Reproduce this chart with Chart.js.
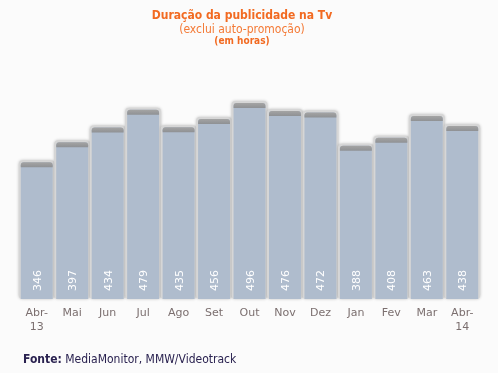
<!DOCTYPE html>
<html>
<head>
<meta charset="utf-8">
<script src="https://cdn.jsdelivr.net/npm/chart.js@4/dist/chart.umd.min.js"></script>
<style>
  html, body { margin: 0; padding: 0; background: #fbfbfb; }
  #wrap { position: relative; width: 498px; height: 373px; overflow: hidden; }
  canvas { position: absolute; left: 0; top: 0; }
  .t { position: absolute; left: 0; width: 484px; text-align: center; color: #f26a21; font-family: "DejaVu Sans Condensed", "DejaVu Sans", sans-serif; white-space: nowrap; }
  #t1 { top: 8px; font-size: 12px; font-weight: bold; }
  #t2 { top: 22px; font-size: 12px; color: #f47a36; }
  #t3 { top: 35px; font-size: 10px; font-weight: bold; }
  #src { position: absolute; left: 23px; top: 352px; font-family: "DejaVu Sans Condensed", "DejaVu Sans", sans-serif; font-size: 12px; color: #2a2250; white-space: nowrap; }
</style>
</head>
<body>
<div id="wrap">
  <canvas id="chart" width="498" height="373"></canvas>
  <div class="t" id="t1">Duração da publicidade na Tv</div>
  <div class="t" id="t2">(exclui auto-promoção)</div>
  <div class="t" id="t3">(em horas)</div>
  <div id="src"><b>Fonte:</b> MediaMonitor, MMW/Videotrack</div>
</div>
<script>
//---data---
var months = [['Abr-', '13'], 'Mai', 'Jun', 'Jul', 'Ago', 'Set', 'Out', 'Nov', 'Dez', 'Jan', 'Fev', 'Mar', ['Abr-', '14']];
var hours = [346, 397, 434, 479, 435, 456, 496, 476, 472, 388, 408, 463, 438];

//-------------------Plugins-------------------
// soft grey glow behind every bar
var barGlow = {
  id: 'barGlow',
  beforeDatasetsDraw: function(chart){
    const ctx = chart.ctx;
    ctx.save();
    chart.getDatasetMeta(0).data.forEach(function(bar){
      const w = bar.width;
      ctx.fillStyle = '#d6d6d6';
      ctx.shadowColor = 'rgba(0,0,0,0.25)';
      ctx.shadowBlur = 3;
      ctx.beginPath();
      ctx.roundRect(bar.x - w / 2 - 2, bar.y - 2, w + 4, bar.base - bar.y + 2, 4);
      ctx.fill();
    });
    ctx.restore();
  }
};

// dark cap on top of every bar + rotated value label
var barCaps = {
  id: 'barCaps',
  afterDatasetsDraw: function(chart){
    const ctx = chart.ctx;
    ctx.save();
    chart.getDatasetMeta(0).data.forEach(function(bar, i){
      const w = bar.width;
      const g = ctx.createLinearGradient(0, bar.y, 0, bar.y + 5);
      g.addColorStop(0, '#a4a4a4');
      g.addColorStop(1, '#8f9194');
      ctx.fillStyle = g;
      ctx.beginPath();
      ctx.roundRect(bar.x - w / 2, bar.y, w, 5, [3, 3, 0, 0]);
      ctx.fill();

      ctx.save();
      ctx.translate(bar.x + 4, bar.base - 8);
      ctx.rotate(-Math.PI / 2);
      ctx.fillStyle = '#ffffff';
      ctx.font = '11px "DejaVu Sans"';
      ctx.textAlign = 'left';
      ctx.textBaseline = 'alphabetic';
      ctx.fillText(String(hours[i]), 0, 0);
      ctx.restore();
    });
    ctx.restore();
  }
};

new Chart(document.getElementById('chart'), {
  type: 'bar',
  data: {
    labels: months,
    datasets: [{
      data: hours,
      backgroundColor: '#afbccd',
      borderRadius: { topLeft: 3, topRight: 3 },
      borderSkipped: 'start',
      barPercentage: 1,
      categoryPercentage: 0.9
    }]
  },
  options: {
    responsive: false,
    animation: false,
    layout: { padding: { left: 19, right: 18, top: 62, bottom: 0 } },
    plugins: { legend: { display: false }, tooltip: { enabled: false } },
    scales: {
      x: {
        grid: { display: false, drawTicks: false },
        border: { display: false },
        ticks: {
          color: '#7b6f6f',
          font: { family: 'DejaVu Sans', size: 11 },
          padding: 8,
          maxRotation: 0,
          autoSkip: false
        },
        afterFit: function(s){ s.height = 74; }
      },
      y: {
        display: false,
        min: 0,
        max: 600
      }
    }
  },
  plugins: [barGlow, barCaps]
});
</script>
</body>
</html>
